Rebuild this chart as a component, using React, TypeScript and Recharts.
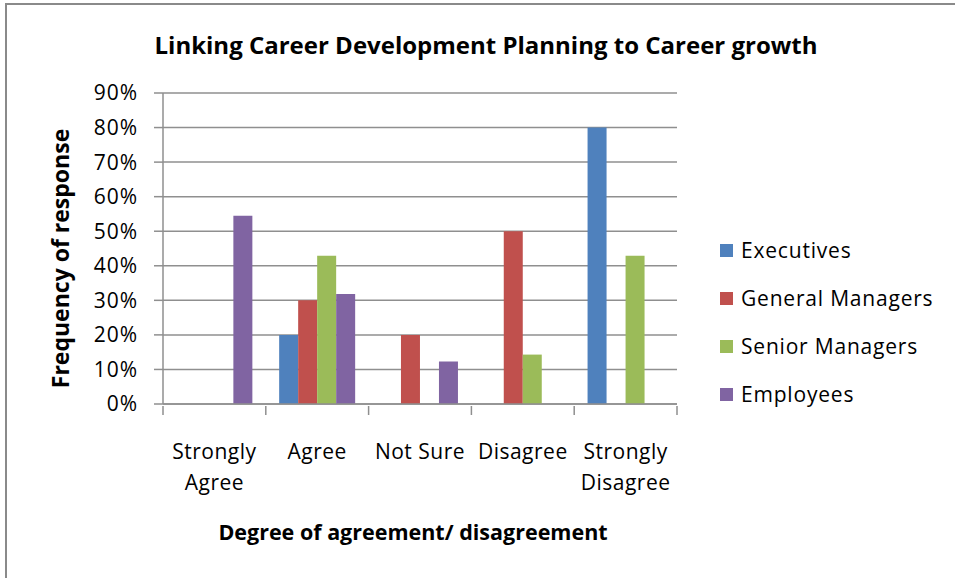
import { BarChart, Bar, XAxis, YAxis, CartesianGrid, Legend, Label } from "recharts";

// categories on the x axis ("\n" = line break in the tick label)
const categories = ["Strongly\nAgree", "Agree", "Not Sure", "Disagree", "Strongly\nDisagree"];

// share of respondents (%) per group
const executives = [null, 20, null, null, 80];
const generalManagers = [null, 30, 20, 50, null];
const seniorManagers = [null, 42.9, null, 14.3, 42.9];
const employees = [54.5, 31.8, 12.3, null, null];

const yTicks = [0, 10, 20, 30, 40, 50, 60, 70, 80, 90];

const series = [
  { key: "executives", name: "Executives", color: "#4F81BD" },
  { key: "generalManagers", name: "General Managers", color: "#C0504D" },
  { key: "seniorManagers", name: "Senior Managers", color: "#9BBB59" },
  { key: "employees", name: "Employees", color: "#8064A2" },
];

const data = categories.map((cat, i) => ({
  cat,
  executives: executives[i],
  generalManagers: generalManagers[i],
  seniorManagers: seniorManagers[i],
  employees: employees[i],
}));

const FONT = "'Open Sans', sans-serif";
const AXIS = "#8f8f8f";
const PLOT_W = 514;
const BAND = PLOT_W / categories.length;

// category label plus the tick marks that sit between categories
const XTick = (props: any) => {
  const { x, y, payload, index } = props;
  const lines = String(payload.value).split("\n");
  const half = BAND / 2;
  return (
    <g>
      <line x1={x - half} x2={x - half} y1={y} y2={y + 9} stroke={AXIS} strokeWidth={1.5} />
      {index === categories.length - 1 && (
        <line x1={x + half} x2={x + half} y1={y} y2={y + 9} stroke={AXIS} strokeWidth={1.5} />
      )}
      <text x={x} y={y} textAnchor="middle" fill="#000" fontSize={21} fontFamily={FONT} letterSpacing={0.5}>
        {lines.map((l, i) => (
          <tspan key={i} x={x} dy={i === 0 ? 53 : 31}>
            {l}
          </tspan>
        ))}
      </text>
    </g>
  );
};

const renderLegend = () => (
  <div style={{ fontFamily: FONT, fontSize: 21, letterSpacing: 0.8, color: "#000" }}>
    {series.map((s) => (
      <div key={s.key} style={{ height: 48, display: "flex", alignItems: "center" }}>
        <span style={{ width: 13, height: 13, background: s.color, marginRight: 8, flexShrink: 0 }} />
        <span style={{ whiteSpace: "nowrap" }}>{s.name}</span>
      </div>
    ))}
  </div>
);

export default function App() {
  return (
    <div style={{ position: "absolute", left: 0, top: 0, width: 955, height: 578, background: "#fff", overflow: "hidden" }}>
      <div
        style={{
          position: "absolute",
          left: 5,
          top: 3,
          width: 1000,
          height: 700,
          borderTop: "2px solid #8a8a8a",
          borderLeft: "2px solid #8a8a8a",
        }}
      />
      <div
        style={{
          position: "absolute",
          left: 0,
          width: 972,
          top: 30,
          lineHeight: "30px",
          textAlign: "center",
          fontFamily: FONT,
          fontWeight: 700,
          fontSize: 24,
          color: "#000",
        }}
      >
        Linking Career Development Planning to Career growth
      </div>
      <BarChart
        width={955}
        height={578}
        data={data}
        margin={{ top: 93, right: 278, left: 0, bottom: 0 }}
        barCategoryGap="13%"
        barGap={0}
        style={{ position: "absolute", left: 0, top: 0 }}
      >
        <CartesianGrid vertical={false} stroke={AXIS} strokeWidth={1.5} />
        <XAxis
          dataKey="cat"
          height={174}
          interval={0}
          tickSize={0}
          tickLine={false}
          axisLine={{ stroke: AXIS, strokeWidth: 1.5 }}
          tick={<XTick />}
        >
          <Label
            value="Degree of agreement/ disagreement"
            position="insideBottom"
            offset={38}
            dx={-7}
            style={{ fontFamily: FONT, fontWeight: 700, fontSize: 21.5, fill: "#000" }}
          />
        </XAxis>
        <YAxis
          width={163}
          domain={[0, 90]}
          ticks={yTicks}
          interval={0}
          tickFormatter={(v) => `${v}%`}
          tickSize={9}
          tickMargin={16}
          tickLine={{ stroke: AXIS, strokeWidth: 1.5 }}
          axisLine={{ stroke: AXIS, strokeWidth: 1.5 }}
          tick={{ fill: "#000", fontSize: 21, fontFamily: FONT, letterSpacing: 1 }}
        >
          <Label
            content={(p: any) => {
              const vb = p.viewBox;
              const cx = vb.x + 60;
              const cy = vb.y + vb.height / 2 + 10;
              return (
                <text
                  x={cx}
                  y={cy}
                  transform={`rotate(-90 ${cx} ${cy})`}
                  textAnchor="middle"
                  dominantBaseline="central"
                  fontFamily={FONT}
                  fontWeight={700}
                  fontSize={23}
                  fill="#000"
                >
                  Frequency of response
                </text>
              );
            }}
          />
        </YAxis>
        <Legend
          layout="horizontal"
          verticalAlign="middle"
          align="center"
          content={renderLegend}
          wrapperStyle={{ position: "absolute", left: 720, top: 226, width: 232 }}
        />
        {series.map((s) => (
          <Bar key={s.key} dataKey={s.key} name={s.name} fill={s.color} isAnimationActive={false} />
        ))}
      </BarChart>
    </div>
  );
}
